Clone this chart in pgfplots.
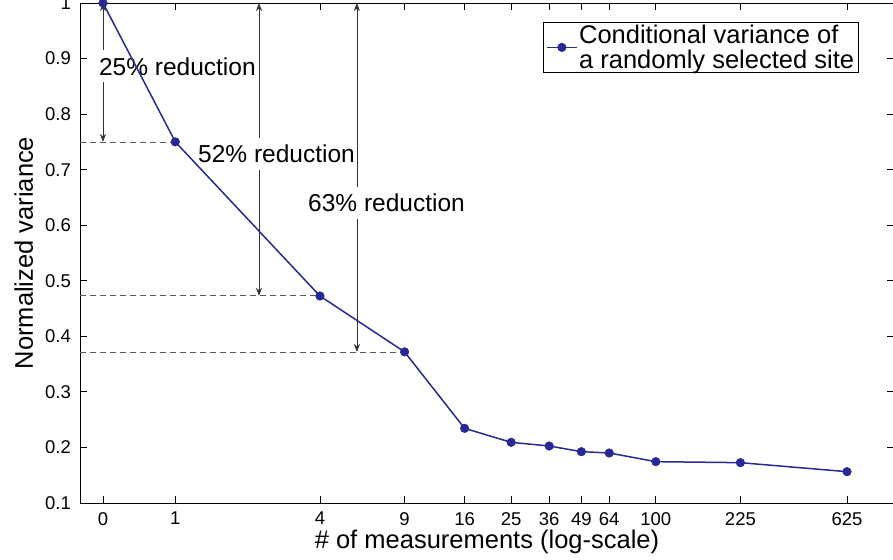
\documentclass[border=0pt]{standalone}
\usepackage{fontspec}
\setmainfont{Liberation Sans}
\usepackage{pgfplots}
\pgfplotsset{compat=1.18}
\usetikzlibrary{arrows.meta}
\definecolor{mblue}{RGB}{40,40,150}

\begin{document}
\begin{tikzpicture}
\begin{axis}[
  at={(0,0)}, anchor=south west,
  scale only axis, width=814pt, height=500pt,
  xmode=log, xmin=0.4011, xmax=980.7,
  ymin=0.1, ymax=1,
  enlargelimits=false, clip=false,
  xtick={0.5,1,4,9,16,25,36,49,64,100,225,625},
  xticklabels={0,1,4,9,16,25,36,49,64,100,225,625},
  xminorticks=false, yminorticks=false,
  ytick={0.1,0.2,0.3,0.4,0.5,0.6,0.7,0.8,0.9,1},
  yticklabels={0.1,0.2,0.3,0.4,0.5,0.6,0.7,0.8,0.9,1},
  tick align=inside, major tick length=7pt,
  axis line style={line width=0.9pt},
  every tick/.style={black, line width=0.8pt},
  tick label style={font=\fontsize{18.5}{18.5}\selectfont,
    /pgf/number format/assume math mode=true},
  xticklabel style={inner sep=0pt, anchor=north, yshift=-9pt},
  yticklabel style={inner sep=0pt, anchor=east, xshift=-9pt},
  xlabel={\# of measurements (log-scale)},
  ylabel={Normalized variance},
  label style={font=\fontsize{25.5}{25.5}\selectfont, inner sep=0pt},
  xlabel style={at={([yshift=-45pt]axis description cs:0.5,0)}, anchor=base},
  ylabel style={at={([xshift=-47pt]axis description cs:0,0.5)}, anchor=base},
  legend cell align=left,
  legend style={at={(axis description cs:0.957,0.962)}, anchor=north east,
    draw=black, line width=0.8pt, fill=white,
    inner xsep=3pt, inner ysep=1pt,
    font=\fontsize{25.5}{25}\selectfont,
    nodes={inner sep=1.5pt}, cells={align=left}},
  legend image code/.code={%
    \draw[mark repeat=2,mark phase=2,#1]
      plot coordinates {(0pt,0pt) (15pt,0pt) (30pt,0pt)};},
]

% guide lines from the y axis to the marked levels
\addplot[black!65, line width=0.7pt, dash pattern=on 6pt off 4pt, forget plot]
  coordinates {(0.4011,0.75) (1,0.75)};
\addplot[black!65, line width=0.7pt, dash pattern=on 6pt off 4pt, forget plot]
  coordinates {(0.4011,0.473) (4,0.473)};
\addplot[black!65, line width=0.7pt, dash pattern=on 6pt off 4pt, forget plot]
  coordinates {(0.4011,0.372) (9,0.372)};

% double arrows showing the reduction from the initial variance
\addplot[black!80, line width=0.7pt,
  {Stealth[length=8pt,width=6pt,inset=2.5pt]}-{Stealth[length=8pt,width=6pt,inset=2.5pt]},
  forget plot] coordinates {(0.5,1) (0.5,0.75)};
\addplot[black!80, line width=0.7pt,
  {Stealth[length=8pt,width=6pt,inset=2.5pt]}-{Stealth[length=8pt,width=6pt,inset=2.5pt]},
  forget plot] coordinates {(2.23,1) (2.23,0.473)};
\addplot[black!80, line width=0.7pt,
  {Stealth[length=8pt,width=6pt,inset=2.5pt]}-{Stealth[length=8pt,width=6pt,inset=2.5pt]},
  forget plot] coordinates {(5.70,1) (5.70,0.372)};

\tikzset{redlab/.style={anchor=base west, fill=white, inner xsep=1pt,
  inner ysep=7pt, font=\fontsize{24.5}{24.5}\selectfont}}
\node[redlab] at (axis cs:0.476,0.8704) {25\% reduction};
\node[redlab] at (axis cs:1.231,0.7125) {52\% reduction};
\node[redlab] at (axis cs:3.533,0.6244) {63\% reduction};

% conditional variance vs. number of measurements (0 placed at 0.5)
\addplot[mblue, line width=1.5pt, mark=*, mark size=4.3pt,
  mark options={solid, fill=mblue, draw=mblue, line width=0.5pt}]
  coordinates {
    (0.5,1.000) (1,0.750) (4,0.4726) (9,0.372) (16,0.2344) (25,0.2092)
    (36,0.2026) (49,0.1924) (64,0.190) (100,0.1744) (225,0.1726) (625,0.1564)
  };
\addlegendentry{Conditional variance of\\a randomly selected site}

\end{axis}
\pgfresetboundingbox
\useasboundingbox (-80pt,-56pt) rectangle (813pt,503pt);
\end{tikzpicture}
\end{document}
